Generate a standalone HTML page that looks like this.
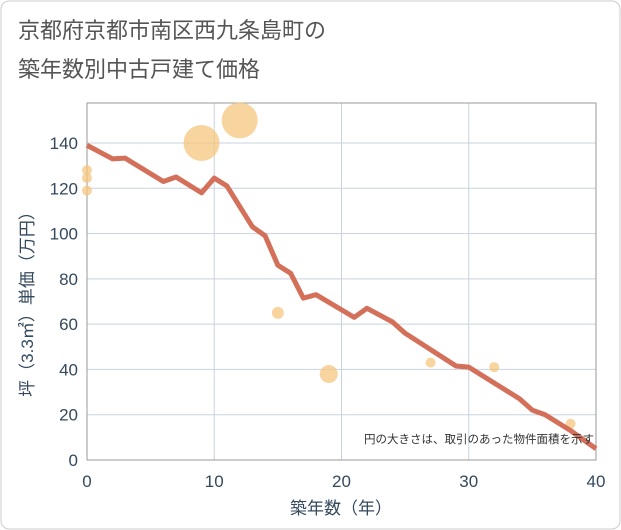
<!DOCTYPE html>
<html><head><meta charset="utf-8"><style>
body{margin:0;background:#fff;}
svg{display:block;font-family:"Liberation Sans","Noto Sans CJK JP",sans-serif;}
</style></head><body>
<svg width="621" height="530">
<rect x="1" y="1" width="619" height="528" rx="8" fill="#fff" stroke="#ccc"/>
<text x="18" y="38" font-size="22" fill="#555">京都府京都市南区西九条島町の</text>
<text x="18" y="77" font-size="22" fill="#555">築年数別中古戸建て価格</text>
<g id="grid"></g>
<rect x="87" y="103" width="509" height="357" fill="none" stroke="#999"/>
<g id="ticks"></g>
<g id="dots"></g>
<path id="line" fill="none" stroke="#d4705a" stroke-width="5" stroke-linejoin="round"/>
<text x="594" y="443" font-size="11.5" fill="#333" text-anchor="end">円の大きさは、取引のあった物件面積を示す</text>
<text x="341" y="514" font-size="17" fill="#34495e" text-anchor="middle">築年数（年）</text>
<text transform="translate(33,300) rotate(-90)" font-size="17" fill="#34495e" text-anchor="middle">坪（3.3㎡）単価（万円）</text>
</svg>
<script>
const xTicks=[0,10,20,30,40];
const yTicks=[0,20,40,60,80,100,120,140];
const lineX=[0,2,3,6,7,9,10,11,13,14,15,16,17,18,21,22,24,25,29,30,34,35,36,38,40];
const lineY=[139,133,133.3,123,125,118,124.5,121,103,99,86,82.5,71.5,73,63,67,61,56,41.5,41,27,22,20,13,5];
const dotX=[0,0,0,9,12,15,19,27,32,38];
const dotY=[128,124.5,119,140,150,65,38,43,41,16];
const dotR=[5,5,5,18,18,6,9,5,5,5];
const sx=v=>87+v*509/40, sy=v=>460-v*317/140;
const NS='http://www.w3.org/2000/svg';
const g=document.getElementById('grid'),t=document.getElementById('ticks'),d=document.getElementById('dots');
function mk(tag,a,p){const e=document.createElementNS(NS,tag);for(const k in a)e.setAttribute(k,a[k]);p.appendChild(e);return e;}
xTicks.forEach(v=>{const l=mk('line',{x1:sx(v),x2:sx(v),y1:103,y2:460,stroke:'#c8d3df'},g);


const tx=mk('text',{x:sx(v),y:487,'font-size':17,fill:'#34495e','text-anchor':'middle'},t);tx.textContent=v;

});
yTicks.forEach(v=>{const l=mk('line',{x1:87,x2:596,y1:sy(v),y2:sy(v),stroke:'#c8d3df'},g);


const tx=mk('text',{x:78,y:sy(v)+6,'font-size':17,fill:'#34495e','text-anchor':'end'},t);tx.textContent=v;

});
dotX.forEach((v,i)=>{const c=mk('circle',{cx:sx(v),cy:sy(dotY[i]),r:dotR[i],fill:'#f5c67f','fill-opacity':0.75},d);

});
document.getElementById('line').setAttribute('d',lineX.map((v,i)=>(i?'L':'M')+sx(v)+','+sy(lineY[i])).join(''));
</script>
</body></html>
